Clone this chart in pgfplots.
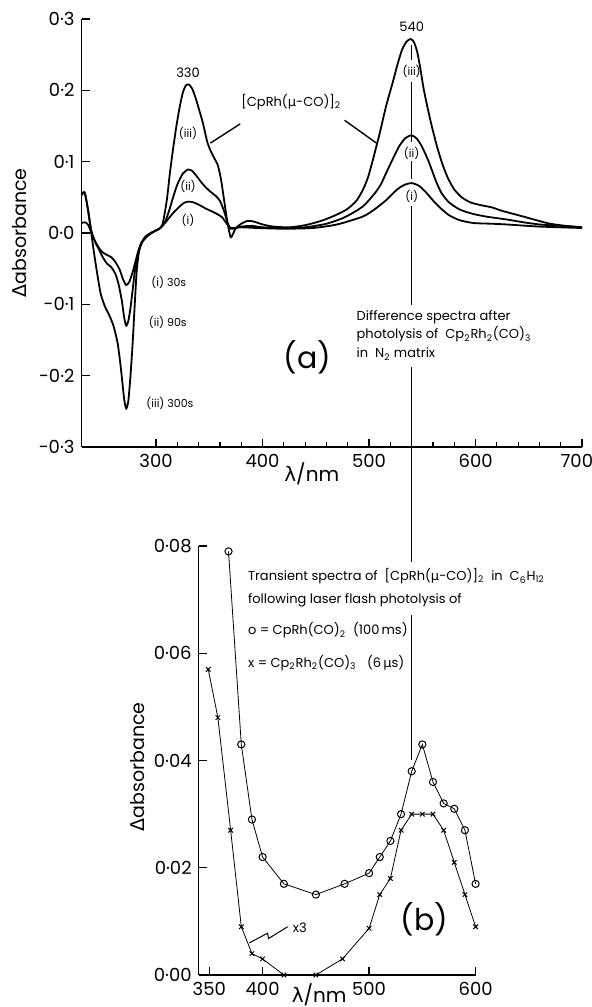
\documentclass[border=0pt]{standalone}
\usepackage{fontspec}
\setmainfont{Poppins}
\newfontfamily\gk{DejaVu Sans}
\usepackage{pgfplots}
\pgfplotsset{compat=1.18}

\pgfplotsset{
  spec/.style={
    scale only axis,
    axis x line*=bottom, axis y line*=left,
    axis line style={-, line width=0.7pt},
    every outer x axis line/.append style={-},
    every outer y axis line/.append style={-},
    tick align=inside,
    major tick length=4pt, minor tick length=2.5pt,
    tick style={black, line width=0.6pt},
    /pgf/number format/assume math mode=true,
    scaled y ticks=false,
    tick label style={font=\fontsize{9}{10}\selectfont},
    clip=false,
  },
  dotnum/.style={
    /pgf/number format/fixed,
    /pgf/number format/fixed zerofill,
    /pgf/number format/precision=#1,
    /pgf/number format/set decimal separator={·},
  },
}

\begin{document}
\begin{tikzpicture}
\path[use as bounding box] (-40.75pt,-280pt) rectangle (254.75pt,223.5pt);

% (a) matrix difference spectra
\begin{axis}[spec,
  at={(0pt,0pt)}, anchor=south west,
  width=250.3pt, height=214pt,
  xmin=230, xmax=700, ymin=-0.3, ymax=0.3,
  xtick={300,400,500,600,700}, minor x tick num=4,
  xticklabels={300,400,500,600,\makebox[11pt][r]{700}},
  ytick={-0.3,-0.2,-0.1,0,0.1,0.2,0.3},
  yticklabel style={dotnum=1},
]
% (iii) 300 s
\addplot[black, line width=0.9pt, smooth, tension=0.4] coordinates {
(230,0.054) (233,0.057) (236,0.034) (239,0.002) (241,-0.02) (244,-0.05) (248,-0.085)
(252,-0.103) (256,-0.115) (260,-0.13) (264,-0.155) (267,-0.19) (270,-0.232) (272,-0.246)
(274,-0.235) (276,-0.2) (278,-0.155) (280,-0.1) (282,-0.05) (285,-0.018) (290,-0.005)
(296,0.001) (302,0.005) (306,0.012) (310,0.045) (313,0.084) (316,0.118) (319,0.149)
(322,0.175) (325,0.196) (328,0.207) (331,0.208) (334,0.202) (337,0.19) (340,0.175)
(344,0.154) (348,0.128) (351,0.116) (355,0.104) (358,0.095) (361,0.075) (364,0.045)
(367,0.015) (370,-0.006) (372,-0.002) (375,0.007) (380,0.013) (386,0.017) (392,0.016)
(400,0.012) (410,0.009) (425,0.008) (440,0.011) (455,0.017) (467,0.024) (479,0.033)
(488,0.045) (494,0.06) (499,0.078) (504,0.105) (510,0.14) (516,0.178) (522,0.21)
(527,0.238) (531,0.257) (535,0.268) (539,0.272) (542,0.268) (545,0.255) (548,0.232)
(551,0.204) (555,0.175) (559,0.149) (564,0.12) (569,0.096) (574,0.077) (580,0.061)
(587,0.05) (595,0.043) (605,0.039) (615,0.036) (625,0.031) (635,0.027) (645,0.023)
(657,0.018) (670,0.013) (685,0.01) (700,0.008)
};
% (ii) 90 s
\addplot[black, line width=0.9pt, smooth, tension=0.4] coordinates {
(230,0.053) (233,0.056) (236,0.033) (239,0.005) (242,-0.01) (246,-0.022) (250,-0.034)
(254,-0.043) (258,-0.048) (262,-0.058) (265,-0.073) (268,-0.096) (270,-0.118) (272,-0.13)
(274,-0.123) (276,-0.105) (278,-0.08) (280,-0.055) (283,-0.03) (287,-0.013) (292,-0.004)
(298,0.002) (304,0.007) (308,0.014) (312,0.03) (316,0.05) (320,0.068) (325,0.083)
(330,0.089) (334,0.087) (338,0.08) (342,0.072) (346,0.065) (351,0.058) (356,0.052)
(360,0.045) (364,0.03) (367,0.015) (370,0.006) (374,0.007) (380,0.009) (390,0.01)
(400,0.008) (420,0.007) (440,0.008) (460,0.013) (477,0.022) (494,0.037) (505,0.055)
(511,0.068) (516,0.084) (522,0.103) (528,0.121) (534,0.133) (540,0.137) (545,0.132)
(550,0.12) (556,0.1) (563,0.072) (568,0.056) (575,0.043) (585,0.033) (597,0.027)
(610,0.023) (629,0.019) (645,0.015) (660,0.012) (680,0.01) (700,0.008)
};
% (i) 30 s
\addplot[black, line width=0.9pt, smooth, tension=0.4] coordinates {
(230,0.014) (233,0.015) (236,0.012) (240,-0.002) (243,-0.012) (246,-0.02) (249,-0.026)
(253,-0.03) (258,-0.034) (262,-0.041) (266,-0.052) (269,-0.065) (272,-0.073) (275,-0.068)
(278,-0.055) (281,-0.038) (284,-0.022) (288,-0.01) (293,-0.003) (298,0.002) (304,0.007)
(310,0.017) (316,0.028) (322,0.037) (326,0.042) (330,0.044) (335,0.043) (341,0.039)
(347,0.034) (353,0.03) (358,0.026) (362,0.022) (366,0.014) (370,0.007) (380,0.008)
(395,0.007) (420,0.006) (447,0.007) (470,0.012) (494,0.023) (505,0.033) (516,0.046)
(522,0.055) (528,0.063) (534,0.068) (540,0.07) (547,0.066) (554,0.056) (561,0.044)
(567,0.035) (575,0.025) (585,0.018) (598,0.014) (615,0.013) (629,0.012) (660,0.009)
(700,0.007)
};

% broken marker line at 540 nm, running down into panel (b)
\draw[line width=0.7pt]
  (axis cs:540,0.263) -- (axis cs:540,0.242)
  (axis cs:540,0.211) -- (axis cs:540,0.128)
  (axis cs:540,0.101) -- (axis cs:540,0.076)
  (axis cs:540,0.038) -- (axis cs:540,-0.101)
  (axis cs:540,-0.188) -- (axis cs:540,-0.461)
  (axis cs:540,-0.536) -- (axis cs:540,-0.739);

\begin{scope}[font=\fontsize{6.5}{7}\selectfont]
\node at (axis cs:330,0.224) {330};
\node at (axis cs:540,0.289) {540};
\node at (axis cs:427,0.184) {[CpRh({\gk μ}-CO)]\textsubscript{2}};
\end{scope}
\draw[line width=0.7pt] (axis cs:379,0.153) -- (axis cs:351,0.126);
\draw[line width=0.7pt] (axis cs:477,0.158) -- (axis cs:507,0.126);

\begin{scope}[font=\fontsize{5.5}{6}\selectfont, inner sep=0.5pt]
\node at (axis cs:330,0.140) {(iii)};
\node at (axis cs:330,0.065) {(ii)};
\node at (axis cs:330,0.018) {(i)};
\node at (axis cs:540,0.226) {(iii)};
\node at (axis cs:540,0.112) {(ii)};
\node at (axis cs:540,0.052) {(i)};
\node at (axis cs:312,-0.069) {(i) 30s};
\node at (axis cs:311,-0.125) {(ii) 90s};
\node at (axis cs:313,-0.239) {(iii) 300s};
\end{scope}

\node[font=\fontsize{15}{16}\selectfont] at (axis cs:442,-0.174) {(a)};
\node[anchor=north west, align=left, inner sep=0pt,
  font=\fontsize{6.5}{9.3}\selectfont] at (axis cs:488,-0.108)
  {Difference spectra after\\
   photolysis of\ \ Cp\textsubscript{2}Rh\textsubscript{2}(CO)\textsubscript{3}\\
   in\ \ N\textsubscript{2} matrix};

\node[rotate=90, font=\fontsize{9.5}{10}\selectfont]
  at (axis description cs:-0.123,0.5) {{\gk Δ}absorbance};
\node[font=\fontsize{10}{11}\selectfont]
  at (axis description cs:0.46,-0.062) {{\gk λ}/nm};
\end{axis}

% (b) transient spectra
\begin{axis}[spec,
  at={(58.6pt,-264pt)}, anchor=south west,
  width=138.45pt, height=214.5pt,
  xmin=340, xmax=600, ymin=0, ymax=0.08,
  xtick={350,400,500,600},
  ytick={0,0.02,0.04,0.06,0.08},
  yticklabel style={dotnum=2},
]
% from CpRh(CO)2, 100 ms
\addplot[black, line width=0.4pt, mark=o, mark size=1.8pt,
  mark options={fill=white, line width=0.5pt}] coordinates {
(368,0.079) (380,0.043) (390,0.029) (400,0.022) (420,0.017) (450,0.015) (477,0.017)
(500,0.019) (510,0.022) (520,0.025) (530,0.030) (540,0.038) (550,0.043) (560,0.036)
(570,0.032) (580,0.031) (590,0.027) (600,0.017)
};
% from Cp2Rh2(CO)3, 6 us
\addplot[black, line width=0.4pt, mark=x, mark size=1.6pt,
  mark options={line width=0.5pt}] coordinates {
(349,0.057) (358,0.048) (370,0.027) (380,0.009) (390,0.004) (400,0.003) (420,0)
(450,0) (475,0.003) (500,0.0087) (510,0.015) (520,0.018) (530,0.027) (540,0.030)
(550,0.030) (560,0.030) (570,0.027) (580,0.021) (590,0.015) (600,0.009)
};

\draw[line width=0.5pt] (axis cs:387.6,0.006) -- (axis cs:404.8,0.0078)
  -- (axis cs:405.5,0.0068) -- (axis cs:423.6,0.009);
\node[anchor=west, inner sep=0pt, font=\fontsize{6.5}{7}\selectfont]
  at (axis cs:428,0.0088) {x3};

\begin{scope}[font=\fontsize{6.5}{7}\selectfont, anchor=west, inner sep=0pt]
\node at (axis cs:386,0.0744) {Transient spectra of\ \ [CpRh({\gk μ}-CO)]\textsubscript{2}\ \ in\ \ C\textsubscript{6}H\textsubscript{12}};
\node at (axis cs:386,0.0699) {following laser flash photolysis of};
\node at (axis cs:386,0.0643) {o\ = CpRh(CO)\textsubscript{2}\ \ (100\,ms)};
\node at (axis cs:386,0.0582) {x\ = Cp\textsubscript{2}Rh\textsubscript{2}(CO)\textsubscript{3}\ \ \ (6\,{\gk μ}s)};
\end{scope}

\node[font=\fontsize{15}{16}\selectfont] at (axis cs:552,0.0103) {(b)};

\node[rotate=90, font=\fontsize{9.5}{10}\selectfont]
  at (axis description cs:-0.22,0.485) {{\gk Δ}absorbance};
\node[font=\fontsize{10}{11}\selectfont]
  at (axis description cs:0.435,-0.046) {{\gk λ}/nm};
\end{axis}
\end{tikzpicture}
\end{document}
